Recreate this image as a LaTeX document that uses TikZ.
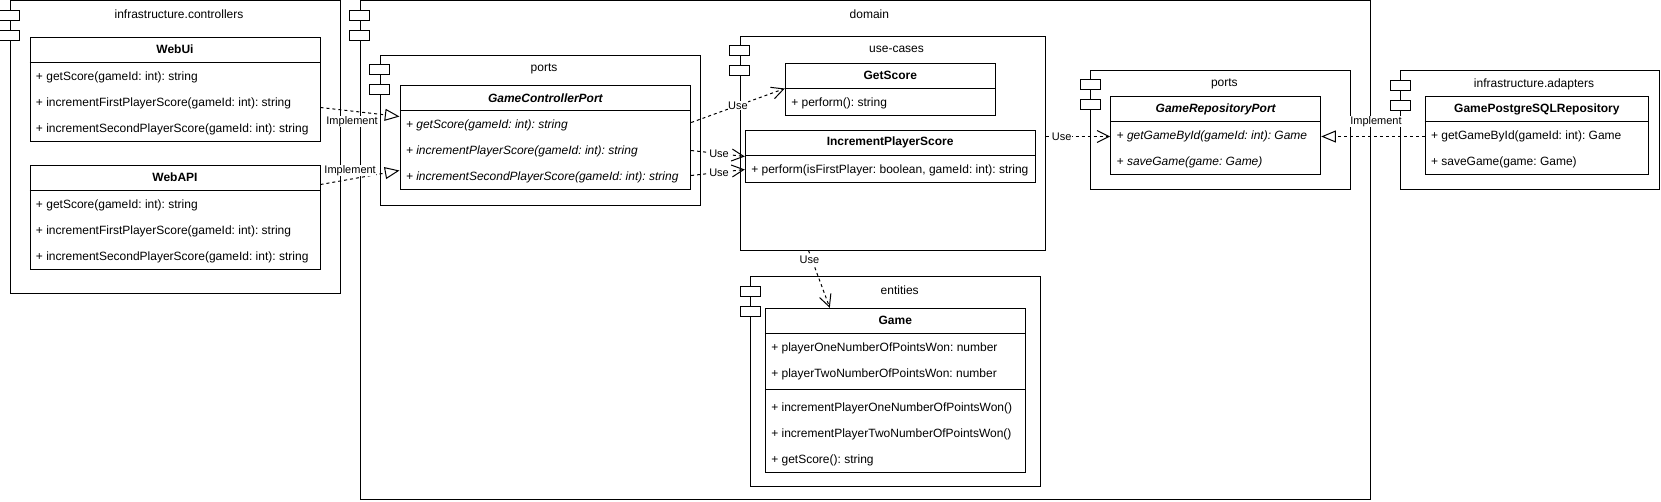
\documentclass[tikz,border=0pt]{standalone}
\usepackage{fontspec}
\setmainfont{Liberation Sans}
\usetikzlibrary{arrows.meta,calc,fit,positioning}
\frenchspacing

\begin{document}
\begin{tikzpicture}[x=0.75pt,y=-0.75pt,line width=0.75pt,
		pkg/.style={draw,inner sep=0pt},
		pkgtab/.style={draw,fill=white,inner sep=0pt,minimum width=15pt,minimum height=7.5pt},
		pkgname/.style={inner sep=0pt,font=\fontsize{9}{11}\selectfont},
		cls/.style={draw,fill=white,inner sep=0pt},
		clsname/.style={inner sep=0pt,font=\fontsize{9}{11}\selectfont\bfseries},
		absname/.style={inner sep=0pt,font=\fontsize{9}{11}\selectfont\bfseries\itshape},
		member/.style={anchor=west,inner sep=0pt,font=\fontsize{9}{11}\selectfont},
		absmember/.style={member,font=\fontsize{9}{11}\selectfont\itshape},
		rel/.style={draw,dash pattern=on 2.25pt off 2.25pt},
		implement/.style={rel,-{Triangle[open,length=11pt,width=9pt]}},
		use/.style={rel,-{Straight Barb[length=9pt,width=9pt]}},
		lbl/.style={fill=white,inner sep=0.5pt,font=\fontsize{8.25}{10}\selectfont}]
		\useasboundingbox (0,0) rectangle (1661,501);
		% packages
		\node[pkg,fit={(10,0.5) (340,293)}] (ctrl) {};
		\node[pkg,fit={(360,0.5) (1370.7,499.5)}] (domain) {};
		\node[pkg,fit={(380,55) (700,205)}] (cports) {};
		\node[pkg,fit={(740,36) (1045,250)}] (usecases) {};
		\node[pkg,fit={(750.7,276.7) (1040.7,486.7)}] (entities) {};
		\node[pkg,fit={(1090.7,70) (1350,189.3)}] (rports) {};
		\node[pkg,fit={(1400.7,70.7) (1659.3,189.3)}] (adapters) {};
		\foreach \p in {ctrl,domain,cports,usecases,entities,rports,adapters}{
			\node[pkgtab] (\p-tab1) at ($(\p.north west)+(0,15)$) {};
			\node[pkgtab] (\p-tab2) at ($(\p.north west)+(0,35)$) {};
		}
		\node[pkgname] (ctrl-name) at ($(ctrl.north)+(4,14)$) {infrastructure.controllers};
		\node[pkgname] (domain-name) at ($(domain.north)+(4,14)$) {domain};
		\node[pkgname] (cports-name) at ($(cports.north)+(4,14)$) {ports};
		\node[pkgname] (usecases-name) at ($(usecases.north)+(4,14)$) {use-cases};
		\node[pkgname] (entities-name) at ($(entities.north)+(4,14)$) {entities};
		\node[pkgname] (rports-name) at ($(rports.north)+(4,14)$) {ports};
		\node[pkgname] (adapters-name) at ($(adapters.north)+(4,14)$) {infrastructure.adapters};
		% controllers
		\node[cls,fit={(30,37) (320,141)}] (webui) {};
		\node[clsname] (webui-name) at ($(webui.north)+(0,13)$) {WebUi};
		\draw ($(webui.north west)+(0,26)$) -- ($(webui.north east)+(0,26)$);
		\foreach \m [count=\i] in {+ getScore(gameId: int): string, + incrementFirstPlayerScore(gameId: int): string, + incrementSecondPlayerScore(gameId: int): string}
			\node[member] (webui-\i) at ($(webui.north west)+(6,15+26*\i)$) {\m};
		\node[cls,fit={(30,165) (320,269)}] (webapi) {};
		\node[clsname] (webapi-name) at ($(webapi.north)+(0,13)$) {WebAPI};
		\draw ($(webapi.north west)+(0,26)$) -- ($(webapi.north east)+(0,26)$);
		\foreach \m [count=\i] in {+ getScore(gameId: int): string, + incrementFirstPlayerScore(gameId: int): string, + incrementSecondPlayerScore(gameId: int): string}
			\node[member] (webapi-\i) at ($(webapi.north west)+(6,15+26*\i)$) {\m};
		% domain ports
		\node[cls,fit={(400,85) (690.7,189)}] (gcport) {};
		\node[absname] (gcport-name) at ($(gcport.north)+(0,14)$) {GameControllerPort};
		\draw ($(gcport.north west)+(0,26)$) -- ($(gcport.north east)+(0,26)$);
		\foreach \m [count=\i] in {+ getScore(gameId: int): string, + incrementPlayerScore(gameId: int): string, + incrementSecondPlayerScore(gameId: int): string}
			\node[absmember] (gcport-\i) at ($(gcport.north west)+(6,15+26*\i)$) {\m};
		\node[cls,fit={(1110.7,96) (1320.7,174)}] (grport) {};
		\node[absname] (grport-name) at ($(grport.north)+(0,14)$) {GameRepositoryPort};
		\draw ($(grport.north west)+(0,26)$) -- ($(grport.north east)+(0,26)$);
		\foreach \m [count=\i] in {+ getGameById(gameId: int): Game, + saveGame(game: Game)}
			\node[absmember] (grport-\i) at ($(grport.north west)+(6,15+26*\i)$) {\m};
		% use cases
		\node[cls,fit={(785.3,63) (995.3,115)}] (getscore) {};
		\node[clsname] (getscore-name) at ($(getscore.north)+(0,13)$) {GetScore};
		\draw ($(getscore.north west)+(0,26)$) -- ($(getscore.north east)+(0,26)$);
		\node[member] (getscore-1) at ($(getscore.north west)+(6,41)$) {+ perform(): string};
		\node[cls,fit={(745.3,130) (1035,182)}] (incscore) {};
		\node[clsname] (incscore-name) at ($(incscore.north)+(0,13)$) {IncrementPlayerScore};
		\draw ($(incscore.north west)+(0,26)$) -- ($(incscore.north east)+(0,26)$);
		\node[member] (incscore-1) at ($(incscore.north west)+(6,41)$) {+ perform(isFirstPlayer: boolean, gameId: int): string};
		% entities
		\node[cls,fit={(765.3,308.3) (1025.3,472)}] (game) {};
		\node[clsname] (game-name) at ($(game.north)+(0,13)$) {Game};
		\draw ($(game.north west)+(0,26)$) -- ($(game.north east)+(0,26)$);
		\foreach \m [count=\i] in {+ playerOneNumberOfPointsWon: number, + playerTwoNumberOfPointsWon: number}
			\node[member] (game-a\i) at ($(game.north west)+(6,15+26*\i)$) {\m};
		\draw ($(game.north west)+(0,82)$) -- ($(game.north east)+(0,82)$);
		\foreach \m [count=\i] in {+ incrementPlayerOneNumberOfPointsWon(), + incrementPlayerTwoNumberOfPointsWon(), + getScore(): string}
			\node[member] (game-m\i) at ($(game.north west)+(6,75+26*\i)$) {\m};
		% adapters
		\node[cls,fit={(1425,96) (1648.7,174)}] (pgrepo) {};
		\node[clsname] (pgrepo-name) at ($(pgrepo.north)+(0,14)$) {GamePostgreSQLRepository};
		\draw ($(pgrepo.north west)+(0,26)$) -- ($(pgrepo.north east)+(0,26)$);
		\foreach \m [count=\i] in {+ getGameById(gameId: int): Game, + saveGame(game: Game)}
			\node[member] (pgrepo-\i) at ($(pgrepo.north west)+(6,15+26*\i)$) {\m};
		% relations
		\draw[implement] ($(webui.north east)+(0,71)$) -- node[lbl,pos=0.4,yshift=-7.8pt] (impl-webui) {Implement} ($(gcport.north west)+(0,32)$);
		\draw[implement] ($(webapi.north east)+(0,20)$) -- node[lbl,pos=0.375,yshift=6.6pt] (impl-webapi) {Implement} ($(gcport.north west)+(0,86)$);
		\draw[use] ($(gcport.north east)+(0,38)$) -- node[lbl,pos=0.5] (use-getscore) {Use} ($(getscore.north west)+(0,26)$);
		\draw[use] ($(gcport.north east)+(0,66)$) -- node[lbl,pos=0.52] (use-inc1) {Use} ($(incscore.north west)+(0,27)$);
		\draw[use] ($(gcport.north east)+(0,91)$) -- node[lbl,pos=0.52] (use-inc2) {Use} ($(incscore.north west)+(0,40)$);
		\draw[use] ($(usecases.north east)+(0,101)$) -- node[lbl,pos=0.25] (use-grport) {Use} ($(grport.north west)+(0,41)$);
		\draw[implement] ($(pgrepo.north west)+(0,41)$) -- node[lbl,pos=0.47,yshift=11.1pt] (impl-pgrepo) {Implement} ($(grport.north east)+(0,41)$);
		\draw[use] ($(usecases.south west)+(69,0)$) -- node[lbl,pos=0.17,xshift=-2pt] (use-game) {Use} ($(game.north west)+(65,0)$);
\end{tikzpicture}
\end{document}
